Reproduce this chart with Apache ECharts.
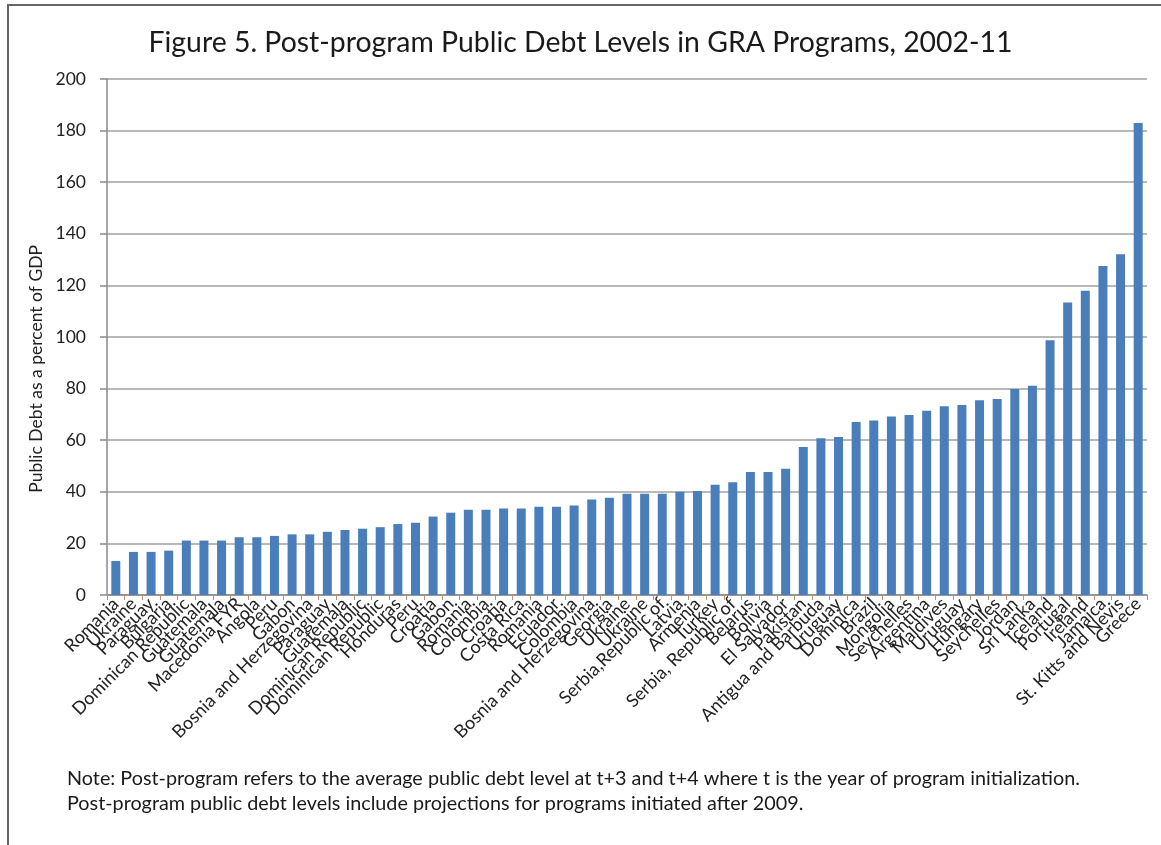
<!DOCTYPE html>
<html>
<head>
<meta charset="utf-8">
<script src="https://cdn.jsdelivr.net/npm/echarts@6/dist/echarts.min.js"></script>
<style>
  html, body { margin: 0; padding: 0; background: #fff; }
  #chart { width: 1161px; height: 845px; }
  #frame { position: absolute; left: 7px; top: 4px; width: 1160px; height: 850px;
           border-left: 2px solid #666; border-top: 2px solid #666; pointer-events: none; }
</style>
</head>
<body>
<div id="chart"></div>
<div id="frame"></div>
<script>
const categories = [
  "Romania", "Ukraine", "Paraguay", "Bulgaria", "Dominican Republic", "Guatemala", "Guatemala",
  "Macedonia FYR", "Angola", "Peru", "Gabon", "Bosnia and Herzegovina", "Paraguay", "Guatemala",
  "Dominican Republic", "Dominican Republic", "Honduras", "Peru", "Croatia", "Gabon", "Romania",
  "Colombia", "Croatia", "Costa Rica", "Romania", "Ecuador", "Colombia", "Bosnia and Herzegovina",
  "Georgia", "Ukraine", "Ukraine", "Serbia,Republic of", "Latvia", "Armenia", "Turkey",
  "Serbia, Republic of", "Belarus", "Bolivia", "El Salvador", "Pakistan", "Antigua and Barbuda",
  "Uruguay", "Dominica", "Brazil", "Mongolia", "Seychelles", "Argentina", "Maldives", "Uruguay",
  "Hungary", "Seychelles", "Jordan", "Sri Lanka", "Iceland", "Portugal", "Ireland", "Jamaica",
  "St. Kitts and Nevis", "Greece"
];
const debtValues = [
  13.2, 16.7, 16.7, 17.2, 21.1, 21.1, 21.1, 22.4, 22.4, 22.9, 23.5, 23.5, 24.5, 25.2, 25.7,
  26.3, 27.5, 28.0, 30.4, 31.9, 33.0, 33.0, 33.5, 33.5, 34.2, 34.2, 34.7, 37.0, 37.7, 39.2,
  39.2, 39.2, 40.0, 40.3, 42.7, 43.7, 47.7, 47.7, 48.9, 57.4, 60.8, 61.2, 67.1, 67.6, 69.2,
  69.8, 71.4, 73.2, 73.6, 75.5, 76.0, 79.8, 81.1, 98.7, 113.4, 117.9, 127.5, 132.1, 182.9
];
const yTicks = { min: 0, max: 200, interval: 20 };
const titleText = "Figure 5. Post-program Public Debt Levels in GRA Programs, 2002-11";
const yAxisTitle = "Public Debt as a percent of GDP";
const noteLines = [
  "Note: Post-program refers to the average public debt level at t+3 and t+4 where t is the year of program initialization.",
  "Post-program public debt levels include projections for programs initiated after 2009."
];

const chart = echarts.init(document.getElementById('chart'), null, { renderer: 'canvas' });
const FONT = 'Lato, "Open Sans", sans-serif';

chart.setOption({
  animation: false,
  backgroundColor: '#fff',
  title: {
    text: titleText,
    left: 'center',
    top: 24,
    textStyle: { fontFamily: FONT, fontSize: 28.4, fontWeight: 'normal', color: '#1a1a1a' }
  },
  grid: { left: 107, right: 14, top: 79, bottom: 250, containLabel: false },
  xAxis: {
    type: 'category',
    data: categories,
    boundaryGap: true,
    axisLine: { show: true, lineStyle: { color: '#8a8a8a', width: 1.5 } },
    axisTick: { show: true, alignWithLabel: false, length: 5, lineStyle: { color: '#b8946c', width: 1 } },
    axisLabel: {
      interval: 0, rotate: 45, margin: 6,
      fontFamily: FONT, fontSize: 18, color: '#222'
    },
    splitLine: { show: false }
  },
  yAxis: {
    type: 'value',
    min: yTicks.min, max: yTicks.max, interval: yTicks.interval,
    axisLine: { show: true, lineStyle: { color: '#8a8a8a', width: 1.5 } },
    axisTick: { show: true, length: 7, lineStyle: { color: '#8a8a8a', width: 1.5 } },
    axisLabel: { margin: 21, fontFamily: FONT, fontSize: 17.5, color: '#222' },
    splitLine: { show: true, lineStyle: { color: '#a0a0a0', width: 1.5 } }
  },
  graphic: [
    {
      type: 'text',
      left: 27, top: 245,
      rotation: Math.PI / 2,
      style: { text: yAxisTitle, fontFamily: FONT, fontSize: 17.5, fill: '#222' },
      originX: 0, originY: 0
    },
    {
      type: 'text', left: 67, top: 769,
      style: { text: noteLines[0], fontFamily: FONT, fontSize: 19.8, fill: '#1a1a1a' }
    },
    {
      type: 'text', left: 67, top: 794,
      style: { text: noteLines[1], fontFamily: FONT, fontSize: 19.8, fill: '#1a1a1a' }
    }
  ],
  series: [{
    type: 'bar',
    data: debtValues,
    barWidth: 9,
    itemStyle: { color: '#4a7ebb' }
  }]
});
</script>
</body>
</html>
